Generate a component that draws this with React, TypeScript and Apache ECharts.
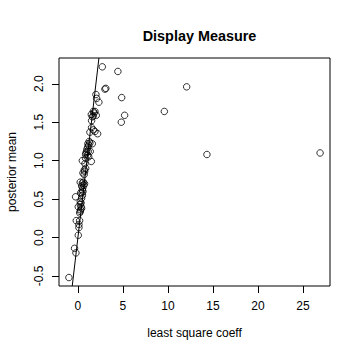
import React, { useEffect, useRef } from "react";
import * as echarts from "echarts";

const lsCoeff = [
  2.71, 4.44, 12.08, 3.0, 3.1, 4.86, 2.0, 2.08, 2.33, 9.6, 5.19, 4.82, 14.33, 26.9, 2.19,
  1.71, 1.89, 1.49, 2.04, 1.7, 1.52, 1.52, 1.71, 1.89, 1.33, 1.11, 1.33, 1.6, 1.2, 0.97,
  1.15, 1.37, 0.86, 1.08, 1.2, 1.49, 0.49, 0.86, 0.78, 0.71, 0.56, 0.86, 0.75, 0.26,
  0.49, 0.74, 0.41, 0.55, 0.49, 0.56, 0.3, -0.26, 0.41, 0.5, 0.26, 0.35, 0.26, 0.04,
  0.41, 0.26, 0.2, -0.18, 0.19, 0.11, 0.11, 0.04, -0.37, -0.22, -1.0,
  1.0, 1.25, 1.1, 0.9, 0.65, 0.6, 0.45, 1.8, 1.6, 0.7, 0.35, 0.3,
];
const postMean = [
  2.22, 2.16, 1.96, 1.93, 1.94, 1.82, 1.86, 1.81, 1.76, 1.64, 1.59, 1.5, 1.08, 1.1, 1.35,
  1.64, 1.64, 1.6, 1.59, 1.58, 1.52, 1.43, 1.4, 1.38, 1.37, 1.22, 1.23, 1.22, 1.2, 1.12,
  1.12, 1.12, 1.08, 1.07, 1.05, 0.99, 1.0, 1.03, 0.96, 0.88, 0.84, 0.9, 0.86, 0.72,
  0.71, 0.7, 0.67, 0.65, 0.62, 0.6, 0.58, 0.53, 0.51, 0.55, 0.47, 0.45, 0.43, 0.4,
  0.38, 0.34, 0.32, 0.22, 0.22, 0.17, 0.13, 0.03, -0.14, -0.2, -0.52,
  1.15, 1.25, 1.18, 1.1, 0.68, 0.72, 0.58, 1.62, 1.57, 0.82, 0.4, 0.36,
];
const xTicks = [0, 5, 10, 15, 20, 25];
const yTicks = [-0.5, 0, 0.5, 1, 1.5, 2];
const xMin = -2.1, xMax = 28.0;
const yMin = -0.63, yMax = 2.335;

const FONT = "Liberation Sans, Arial, Helvetica, sans-serif";

export default function App() {
  const ref = useRef<HTMLDivElement>(null);
  useEffect(() => {
    if (!ref.current) return;
    const chart = echarts.init(ref.current, null, { renderer: "svg" });
    const pts = lsCoeff.map((x, i) => [x, postMean[i]]);
    chart.setOption({
      animation: false,
      backgroundColor: "#fff",
      title: {
        text: "Display Measure",
        left: 194.5,
        top: 24,
        textAlign: "center",
        textStyle: { fontFamily: FONT, fontSize: 14.4, fontWeight: "bold", color: "#000" },
      },
      grid: {
        left: 59, right: 30, top: 58, bottom: 74,
        show: true, borderColor: "#000", borderWidth: 1, backgroundColor: "transparent",
      },
      xAxis: {
        type: "value", min: xMin, max: xMax,
        splitLine: { show: false },
        axisLine: { show: false, onZero: false },
        axisTick: { show: true, length: 7, customValues: xTicks, lineStyle: { color: "#000" } },
        axisLabel: {
          customValues: xTicks, margin: 14, fontFamily: FONT, fontSize: 12, color: "#000",
          formatter: (v: number) => String(v),
        },
      },
      yAxis: {
        type: "value", min: yMin, max: yMax,
        splitLine: { show: false },
        axisLine: { show: false, onZero: false },
        axisTick: { show: true, length: 7, customValues: yTicks, lineStyle: { color: "#000" } },
        axisLabel: {
          customValues: yTicks, margin: 14, rotate: 90, fontFamily: FONT, fontSize: 12, color: "#000",
          formatter: (v: number) => v.toFixed(1),
        },
      },
      graphic: [
        {
          type: "text", x: 194.5, y: 333,
          style: { text: "least square coeff", font: `12px ${FONT}`, fill: "#000", textAlign: "center", textVerticalAlign: "middle" },
        },
        {
          type: "text", x: 12, y: 172, rotation: Math.PI / 2,
          style: { text: "posterior mean", font: `12px ${FONT}`, fill: "#000", textAlign: "center", textVerticalAlign: "middle" },
        },
      ],
      series: [
        {
          type: "line",
          data: [[yMin, yMin], [yMax, yMax]],
          symbol: "none",
          clip: true,
          lineStyle: { color: "#000", width: 1 },
          silent: true,
        },
        {
          type: "scatter",
          data: pts,
          symbol: "circle",
          symbolSize: 6.5,
          itemStyle: { color: "rgba(0,0,0,0)", borderColor: "#000", borderWidth: 1 },
        },
      ],
    });
    return () => chart.dispose();
  }, []);
  return <div ref={ref} style={{ position: "absolute", left: 0, top: 0, width: 360, height: 360 }} />;
}
